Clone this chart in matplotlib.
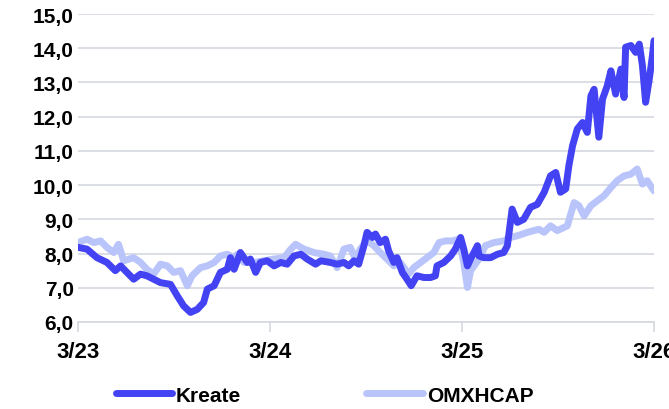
import pandas as pd
import matplotlib.pyplot as plt
from matplotlib.ticker import FuncFormatter

plt.rcParams['font.family'] = ['Liberation Sans', 'DejaVu Sans']

kreate_dates = [
    "2023-03-01", "2023-03-18", "2023-04-06", "2023-04-25", "2023-05-11", "2023-05-21",
    "2023-06-02", "2023-06-15", "2023-06-28", "2023-07-10", "2023-07-23", "2023-08-05",
    "2023-08-24", "2023-09-06", "2023-09-18", "2023-10-01", "2023-10-14", "2023-10-26",
    "2023-11-02", "2023-11-15", "2023-11-27", "2023-12-10", "2023-12-16", "2023-12-23",
    "2024-01-04", "2024-01-17", "2024-01-23", "2024-02-02", "2024-02-11", "2024-02-24",
    "2024-03-08", "2024-03-21", "2024-04-02", "2024-04-15", "2024-04-28", "2024-05-10",
    "2024-05-26", "2024-06-05", "2024-06-23", "2024-07-06", "2024-07-19", "2024-07-28",
    "2024-08-07", "2024-08-16", "2024-08-26", "2024-09-01", "2024-09-11", "2024-09-17",
    "2024-09-26", "2024-10-06", "2024-10-12", "2024-10-22", "2024-10-28", "2024-11-07",
    "2024-11-16", "2024-11-24", "2024-12-05", "2024-12-18", "2024-12-31", "2025-01-09",
    "2025-01-12", "2025-01-25", "2025-02-07", "2025-02-16", "2025-02-26", "2025-03-04",
    "2025-03-11", "2025-03-17", "2025-03-30", "2025-04-02", "2025-04-11", "2025-04-24",
    "2025-05-07", "2025-05-19", "2025-05-26", "2025-06-04", "2025-06-14", "2025-06-26",
    "2025-07-09", "2025-07-22", "2025-08-04", "2025-08-16", "2025-08-26", "2025-09-04",
    "2025-09-14", "2025-09-20", "2025-09-27", "2025-10-06", "2025-10-16", "2025-10-25",
    "2025-11-01", "2025-11-07", "2025-11-16", "2025-11-23", "2025-12-02", "2025-12-09",
    "2025-12-18", "2025-12-28", "2026-01-03", "2026-01-06", "2026-01-16", "2026-01-25",
    "2026-02-01", "2026-02-07", "2026-02-13", "2026-02-20", "2026-02-26", "2026-03-01",
]
kreate = [
    8.18, 8.13, 7.88, 7.74, 7.50, 7.64,
    7.45, 7.25, 7.40, 7.35, 7.25, 7.15,
    7.10, 6.76, 6.47, 6.28, 6.37, 6.57,
    6.96, 7.06, 7.45, 7.54, 7.88, 7.54,
    8.03, 7.74, 7.84, 7.45, 7.74, 7.79,
    7.64, 7.74, 7.69, 7.93, 7.98, 7.84,
    7.69, 7.79, 7.74, 7.69, 7.74, 7.64,
    7.79, 7.69, 8.23, 8.62, 8.47, 8.57,
    8.32, 8.42, 8.08, 7.74, 7.88, 7.45,
    7.25, 7.06, 7.35, 7.30, 7.30, 7.35,
    7.64, 7.74, 7.93, 8.13, 8.47, 8.13,
    7.64, 7.84, 8.23, 7.93, 7.88, 7.88,
    7.98, 8.03, 8.23, 9.30, 8.91, 9.00,
    9.35, 9.44, 9.79, 10.27, 10.37, 9.79,
    9.89, 10.57, 11.15, 11.64, 11.83, 11.54,
    12.61, 12.80, 11.40, 12.51, 12.90, 13.34,
    12.66, 13.39, 12.56, 14.03, 14.08, 13.88,
    14.12, 13.49, 12.42, 13.10, 13.78, 14.22,
]

omx_dates = [
    "2023-03-01", "2023-03-18", "2023-03-31", "2023-04-13", "2023-04-25", "2023-05-08",
    "2023-05-17", "2023-05-27", "2023-06-15", "2023-06-28", "2023-07-10", "2023-07-23",
    "2023-08-05", "2023-08-18", "2023-08-30", "2023-09-12", "2023-09-25", "2023-10-04",
    "2023-10-20", "2023-11-02", "2023-11-15", "2023-11-27", "2023-12-10", "2023-12-23",
    "2023-12-29", "2024-01-11", "2024-01-30", "2024-02-18", "2024-03-08", "2024-03-27",
    "2024-04-09", "2024-04-18", "2024-05-04", "2024-05-23", "2024-06-11", "2024-06-23",
    "2024-07-06", "2024-07-19", "2024-07-31", "2024-08-10", "2024-08-19", "2024-09-01",
    "2024-09-14", "2024-09-26", "2024-10-09", "2024-10-22", "2024-11-03", "2024-11-19",
    "2024-11-29", "2024-12-12", "2024-12-24", "2025-01-06", "2025-01-16", "2025-01-28",
    "2025-02-10", "2025-02-23", "2025-03-04", "2025-03-11", "2025-03-17", "2025-04-02",
    "2025-04-14", "2025-04-30", "2025-05-19", "2025-06-01", "2025-06-14", "2025-07-03",
    "2025-07-25", "2025-08-04", "2025-08-16", "2025-08-29", "2025-09-17", "2025-09-30",
    "2025-10-09", "2025-10-19", "2025-11-01", "2025-11-13", "2025-11-26", "2025-12-09",
    "2025-12-21", "2026-01-03", "2026-01-16", "2026-01-28", "2026-02-07", "2026-02-16",
    "2026-03-01",
]
omx = [
    8.32, 8.42, 8.32, 8.37, 8.18, 8.03,
    8.27, 7.79, 7.88, 7.74, 7.54, 7.40,
    7.69, 7.64, 7.45, 7.50, 7.06, 7.35,
    7.59, 7.64, 7.74, 7.93, 7.98, 7.88,
    7.98, 7.74, 7.74, 7.79, 7.84, 7.88,
    8.13, 8.27, 8.13, 8.03, 7.98, 7.93,
    7.59, 8.13, 8.18, 7.84, 8.13, 8.37,
    8.23, 8.03, 7.84, 7.64, 7.74, 7.40,
    7.59, 7.74, 7.88, 8.03, 8.32, 8.37,
    8.37, 8.42, 7.74, 7.01, 7.50, 7.84,
    8.23, 8.32, 8.37, 8.47, 8.52, 8.62,
    8.71, 8.62, 8.81, 8.67, 8.81, 9.49,
    9.40, 9.10, 9.40, 9.54, 9.69, 9.93,
    10.13, 10.27, 10.32, 10.47, 10.03, 10.13,
    9.83,
]

tick_dates = ["2023-03-01", "2024-03-01", "2025-03-01", "2026-03-01"]
tick_labels = ["3/23", "3/24", "3/25", "3/26"]

fig = plt.figure(figsize=(6.69, 4.10), dpi=100)
ax = fig.add_axes([0.1166, 0.2122, 0.8610, 0.7512])

ax.plot(pd.to_datetime(omx_dates), omx, color='#b9c5fa', lw=5,
        solid_capstyle='round', solid_joinstyle='round', label='OMXHCAP')
ax.plot(pd.to_datetime(kreate_dates), kreate, color='#4343f3', lw=5,
        solid_capstyle='round', solid_joinstyle='round', label='Kreate')

ax.set_ylim(6, 15)
ax.set_yticks(range(6, 16))
ax.yaxis.set_major_formatter(FuncFormatter(lambda v, p: f"{v:.1f}".replace('.', ',')))
ax.set_xlim(pd.Timestamp("2023-03-01"), pd.Timestamp("2026-03-01"))
ax.set_xticks(pd.to_datetime(tick_dates))
ax.set_xticklabels(tick_labels)

ax.grid(axis='y', color='#d5d8e0', lw=1.2)
ax.set_axisbelow(True)
for s in ['top', 'right', 'left']:
    ax.spines[s].set_visible(False)
ax.spines['bottom'].set_color('#d5d8e0')
ax.spines['bottom'].set_linewidth(1.2)
ax.tick_params(axis='y', length=0, pad=3, labelsize=15)
ax.tick_params(axis='x', length=7, width=1.2, color='#d5d8e0', pad=7, labelsize=16)
for lab in ax.get_xticklabels() + ax.get_yticklabels():
    lab.set_fontweight('bold')

h, l = ax.get_legend_handles_labels()
fig.legend(h[::-1], l[::-1], loc='lower center', bbox_to_anchor=(0.485, -0.035), ncol=2,
           frameon=False, handlelength=2.7, columnspacing=6.0, handletextpad=0.2,
           prop={'weight': 'bold', 'size': 15})

fig.savefig("out.png", dpi=100)
